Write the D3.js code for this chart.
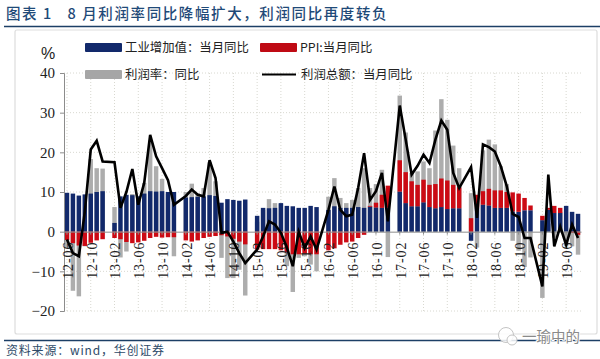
<!DOCTYPE html>
<html>
<head>
<meta charset="utf-8">
<script src="https://cdnjs.cloudflare.com/ajax/libs/d3/7.8.5/d3.min.js"></script>
<style>
  html, body { margin: 0; padding: 0; background: #fff; }
  svg { display: block; }
</style>
</head>
<body>
<div id="chart"></div>
<script>
// months on the x axis, January has no reading so those slots stay empty
const months = [
  "12-06","12-07","12-08","12-09","12-10","12-11","12-12",
  "13-01","13-02","13-03","13-04","13-05","13-06","13-07","13-08","13-09","13-10","13-11","13-12",
  "14-01","14-02","14-03","14-04","14-05","14-06","14-07","14-08","14-09","14-10","14-11","14-12",
  "15-01","15-02","15-03","15-04","15-05","15-06","15-07","15-08","15-09","15-10","15-11","15-12",
  "16-01","16-02","16-03","16-04","16-05","16-06","16-07","16-08","16-09","16-10","16-11","16-12",
  "17-01","17-02","17-03","17-04","17-05","17-06","17-07","17-08","17-09","17-10","17-11","17-12",
  "18-01","18-02","18-03","18-04","18-05","18-06","18-07","18-08","18-09","18-10","18-11","18-12",
  "19-01","19-02","19-03","19-04","19-05","19-06","19-07","19-08"
];
const xTickLabels = [
  "12-06","12-10","13-02","13-06","13-10","14-02","14-06","14-10","15-02","15-06","15-10",
  "16-02","16-06","16-10","17-02","17-06","17-10","18-02","18-06","18-10","19-02","19-06"
];
const yTicks = [-20, -10, 0, 10, 20, 30, 40];

// values
const industry = [
  9.8,9.6,9.1,9.4,9.6,10.0,10.2,
  null,2.2,8.9,9.3,9.2,8.9,9.6,10.2,10.1,10.2,10.0,10.0,
  null,8.6,8.7,8.8,8.9,9.2,9.0,7.3,8.2,8.0,7.8,8.1,
  null,4.0,6.0,5.9,6.0,7.2,6.5,6.4,6.0,6.0,6.5,6.2,
  null,5.5,6.4,6.0,6.0,6.0,6.2,6.0,6.3,6.1,6.0,6.0,
  null,10.1,7.2,6.4,6.4,7.4,6.2,5.9,6.2,5.7,5.9,5.9,
  null,-2.3,6.0,6.8,6.6,6.0,6.0,6.0,5.1,5.0,5.4,5.4,
  null,2.9,5.5,4.7,4.7,6.5,5.0,4.5
];
const ppi = [
  -2.1,-2.9,-3.5,-3.6,-2.8,-2.2,-1.9,
  null,-1.6,-1.9,-2.6,-2.9,-2.7,-2.3,-1.6,-1.3,-1.5,-1.4,-1.4,
  null,-2.2,-2.5,-2.2,-1.6,-1.3,-1.1,-0.9,-1.2,-1.8,-2.5,-3.2,
  null,-4.5,-4.4,-4.4,-4.4,-4.7,-5.2,-5.7,-5.7,-5.6,-5.7,-5.7,
  null,-4.7,-4.2,-3.3,-2.7,-2.5,-1.6,-0.8,0.2,1.2,3.3,5.6,
  null,7.9,7.8,6.3,5.4,5.7,5.6,6.1,7.2,7.2,5.9,5.3,
  null,3.4,3.3,3.4,4.2,4.4,4.4,4.0,4.8,4.6,3.1,1.2,
  null,1.1,0.5,1.8,1.3,0,-0.3,-0.8
];
const margin = [
  -4,-14.9,-16.3,-3.7,18.3,16,15.9,
  null,6.2,-6.5,-5,9.5,8.8,12.3,23,16.5,13.3,9.5,-6.2,
  null,10,12.1,9.7,11,17.5,12.7,-6.6,-11.7,-11.7,-9.6,-16.1,
  null,2.5,5.5,8.2,7.2,7,-8.7,-15.2,-6.6,-6.2,-8.3,-10,
  null,8.8,13.5,8.5,7.2,8,11,16,11,12,15.6,-6.4,
  null,34.3,25,14.8,15.2,17.7,16,25.5,33.4,28.2,21.7,16,
  null,9.7,-4,20.5,23.2,22,16.5,12,-2.3,-4.8,-8.9,-6.5,
  null,-16.7,2,-1.5,5,-3.7,-3.7,-5.8
];
const profit = [
  -2,-5.4,-6.2,5,20.7,22.9,17.7,
  null,17.5,6,10,15.8,6.8,12.3,24.4,19,16,13,6.8,
  null,9,10.6,9.3,8.9,18,13.5,-0.3,0,-2.5,-5.4,-7.9,
  null,-4.5,-1.2,2.6,1.8,-0.3,-4,-8.7,0,-4.1,-1.2,-4.5,
  null,5.5,11.4,5.5,3.9,4.3,11,19.8,8,10.2,14.8,2.6,
  null,31.8,23.2,14.4,16.6,19.4,17.3,23.2,28,25.7,14.8,11,
  null,16.3,3.5,22,21.3,20.2,16.5,11.5,4.5,3.7,-1.6,-1.6,
  null,-13.8,14.4,-3.7,1.3,-3.3,1.8,-1.6
];

const width = 600, height = 359;
const navy = "#12296b", red = "#cc0a14", grey = "#adadad", rule = "#1c3f66";
const cjk = "'Noto Sans CJK SC', sans-serif";
const serif = "'Liberation Serif', serif";

const svg = d3.select("#chart").append("svg")
  .attr("width", width)
  .attr("height", height);

// title and rules
svg.append("text")
  .attr("x", 6).attr("y", 19)
  .attr("xml:space", "preserve")
  .style("white-space", "pre")
  .style("font-family", cjk)
  .style("font-size", "14.5px")
  .style("font-weight", 500)
  .style("letter-spacing", "1.6px")
  .style("fill", "#1f4a78")
  .text("图表 1   8 月利润率同比降幅扩大，利润同比再度转负");

svg.append("rect")
  .attr("x", 15).attr("y", 30)
  .attr("width", 582).attr("height", 304)
  .attr("rx", 2)
  .attr("fill", "#fff")
  .attr("stroke", "#dddddd")
  .attr("stroke-width", 1.2);

svg.append("line")
  .attr("x1", 4).attr("x2", 600).attr("y1", 26.5).attr("y2", 26.5)
  .attr("stroke", rule).attr("stroke-width", 1.6);
svg.append("line")
  .attr("x1", 4).attr("x2", 600).attr("y1", 340.5).attr("y2", 340.5)
  .attr("stroke", rule).attr("stroke-width", 1.6);

svg.append("text")
  .attr("x", 6).attr("y", 355)
  .style("font-family", cjk)
  .style("font-size", "12px")
  .style("letter-spacing", "0.8px")
  .style("fill", "#2d4a68")
  .text("资料来源：wind，华创证券");

// scales
const x = d3.scaleBand()
  .domain(months)
  .range([64, 581])
  .paddingInner(0.25)
  .paddingOuter(0.125);

const y = d3.scaleLinear()
  .domain([-20, 40])
  .range([311, 73]);

const slot = d => x(d) + x.bandwidth() / 2;

// dotted grid
svg.append("g").selectAll("line")
  .data(yTicks.filter(d => d !== 0))
  .join("line")
  .attr("x1", 64).attr("x2", 583)
  .attr("y1", d => y(d)).attr("y2", d => y(d))
  .attr("stroke", "#d8d8d0")
  .attr("stroke-dasharray", "1 2");

svg.append("g").selectAll("line")
  .data(xTickLabels)
  .join("line")
  .attr("x1", slot).attr("x2", slot)
  .attr("y1", y(40)).attr("y2", y(-20))
  .attr("stroke", "#d8d8d0")
  .attr("stroke-dasharray", "1 2");

// grey bars sit behind the stack
svg.append("g").selectAll("rect")
  .data(months.map((m, i) => ({ m, v: margin[i] })).filter(d => d.v !== null))
  .join("rect")
  .attr("x", d => x(d.m))
  .attr("width", x.bandwidth())
  .attr("y", d => y(Math.max(d.v, 0)))
  .attr("height", d => Math.abs(y(d.v) - y(0)))
  .attr("fill", grey);

// stacked bars, negatives go below zero
const rows = months.map((m, i) => ({ m, industry: industry[i] || 0, ppi: ppi[i] || 0 }));
const stacked = d3.stack()
  .keys(["industry", "ppi"])
  .offset(d3.stackOffsetDiverging)(rows);
const colors = { industry: navy, ppi: red };

svg.append("g").selectAll("g")
  .data(stacked)
  .join("g")
  .attr("fill", s => colors[s.key])
  .selectAll("rect")
  .data(s => s)
  .join("rect")
  .attr("x", d => x(d.data.m))
  .attr("width", x.bandwidth())
  .attr("y", d => y(d[1]))
  .attr("height", d => y(d[0]) - y(d[1]));

// axes
const yAxis = svg.append("g")
  .attr("transform", "translate(64,0)")
  .call(d3.axisLeft(y).tickValues(yTicks).tickSize(4).tickSizeOuter(4).tickPadding(5));
yAxis.selectAll("path, line").attr("stroke", "#8c8c8c");
yAxis.selectAll("text")
  .style("font-family", serif)
  .style("font-size", "15px")
  .style("fill", "#222");

const xAxis = svg.append("g")
  .attr("transform", `translate(0,${y(0)})`)
  .call(d3.axisBottom(x).tickValues(xTickLabels).tickSize(3).tickSizeOuter(0));
xAxis.selectAll("path, line").attr("stroke", "#8c8c8c");
xAxis.selectAll("text")
  .attr("transform", "rotate(-90)")
  .attr("text-anchor", "end")
  .attr("x", -10)
  .attr("y", 1)
  .attr("dy", "0.35em")
  .style("font-family", serif)
  .style("font-size", "14px")
  .style("letter-spacing", "0.9px")
  .style("fill", "#222");

// profit line, gaps are bridged
const line = d3.line()
  .defined(d => d.v !== null)
  .x(d => slot(d.m))
  .y(d => y(d.v));

svg.append("path")
  .datum(months.map((m, i) => ({ m, v: profit[i] })).filter(d => d.v !== null))
  .attr("fill", "none")
  .attr("stroke", "#000")
  .attr("stroke-width", 2.6)
  .attr("stroke-linejoin", "miter")
  .attr("d", line);

// unit
svg.append("text")
  .attr("x", 41).attr("y", 59)
  .style("font-family", "'Liberation Sans', sans-serif")
  .style("font-size", "16px")
  .style("fill", "#222")
  .text("%");

// legend
const legend = [
  { label: "工业增加值：当月同比", x: 85, y: 47.5, color: navy, type: "bar" },
  { label: "PPI:当月同比", x: 260, y: 47.5, color: "#bf0a14", type: "bar" },
  { label: "利润率：同比", x: 85, y: 74.5, color: "#a6a6a6", type: "bar" },
  { label: "利润总额：当月同比", x: 261, y: 74.5, color: "#000", type: "line" }
];

const legendRows = svg.append("g").selectAll("g")
  .data(legend)
  .join("g")
  .attr("transform", d => `translate(${d.x},${d.y})`);

legendRows.filter(d => d.type === "bar").append("rect")
  .attr("y", -4.5)
  .attr("width", 37).attr("height", 9)
  .attr("rx", 1)
  .attr("fill", d => d.color);

legendRows.filter(d => d.type === "line").append("line")
  .attr("x1", 1).attr("x2", 35)
  .attr("stroke", d => d.color)
  .attr("stroke-width", 2);

legendRows.append("text")
  .attr("x", 40)
  .attr("dy", "0.36em")
  .style("font-family", cjk)
  .style("font-size", "12.4px")
  .style("fill", "#222")
  .text(d => d.label);

// account mark at bottom right
const mark = svg.append("g").attr("transform", "translate(508,338)");
mark.append("circle").attr("r", 7.5).attr("cx", -2).attr("cy", -3)
  .attr("fill", "#fff").attr("fill-opacity", 0.85).attr("stroke", "#c4c4c4");
mark.append("circle").attr("r", 5).attr("cx", 4).attr("cy", 2)
  .attr("fill", "#fff").attr("fill-opacity", 0.85).attr("stroke", "#c4c4c4");

svg.append("text")
  .attr("x", 522).attr("y", 342)
  .style("font-family", cjk)
  .style("font-size", "14.5px")
  .style("paint-order", "stroke")
  .style("stroke", "#fff")
  .style("stroke-width", "2px")
  .style("fill", "#8a8a8a")
  .text("一瑜中的");
</script>
</body>
</html>
